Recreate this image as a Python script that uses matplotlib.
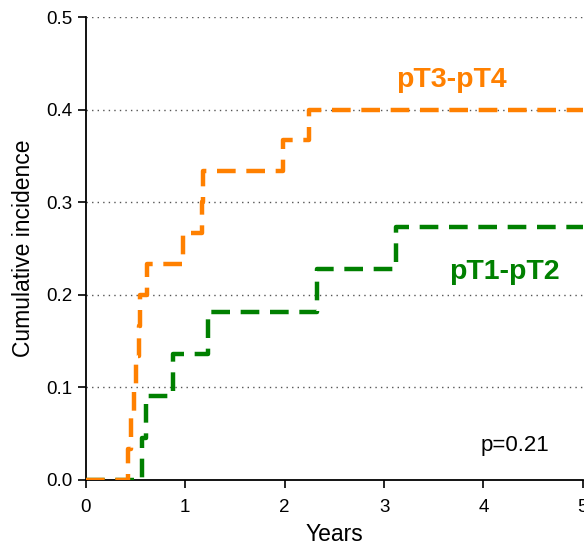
import matplotlib.pyplot as plt

plt.rcParams['font.family'] = ['Liberation Sans', 'DejaVu Sans']

# cumulative incidence step data (years, value)
t34 = [0, 0.42, 0.45, 0.48, 0.50, 0.53, 0.54, 0.62, 0.98, 1.17, 1.18, 1.98, 2.25, 5.0]
ci34 = [0, 1/30, 2/30, 3/30, 4/30, 5/30, 6/30, 7/30, 8/30, 9/30, 10/30, 11/30, 12/30, 12/30]
t12 = [0, 0.56, 0.61, 0.88, 1.23, 2.33, 3.12, 5.0]
ci12 = [0, 1/22, 2/22, 3/22, 4/22, 5/22, 6/22, 6/22]

fig = plt.figure(figsize=(5.84, 5.49), dpi=100)
ax = fig.add_axes([0.147, 0.126, 0.851, 0.843])

for y in [0.1, 0.2, 0.3, 0.4, 0.5]:
    ax.axhline(y, color='#555555', linestyle=(0, (1, 3)), linewidth=1, zorder=1)

ax.step(t12, ci12, where='post', color='#008000', linewidth=3.2, dashes=(4.2, 2.4), zorder=3)
ax.step(t34, ci34, where='post', color='#FF8000', linewidth=3.2, dashes=(4.2, 2.4), zorder=4)

ax.text(3.68, 0.432, 'pT3-pT4', color='#FF8000', fontsize=20.5, fontweight='bold', ha='center', va='center')
ax.text(4.21, 0.2246, 'pT1-pT2', color='#008000', fontsize=20.5, fontweight='bold', ha='center', va='center')
ax.text(4.32, 0.037, 'p=0.21', color='black', fontsize=16, ha='center', va='center')

ax.set_xlim(0, 5)
ax.set_ylim(0, 0.5)
ax.set_xticks([0, 1, 2, 3, 4, 5])
ax.set_yticks([0, 0.1, 0.2, 0.3, 0.4, 0.5])
ax.set_yticklabels(['0.0', '0.1', '0.2', '0.3', '0.4', '0.5'])
ax.tick_params(direction='out', length=6, width=1.2, labelsize=13.5)
ax.tick_params(axis='x', pad=8)
ax.spines['top'].set_visible(False)
ax.spines['right'].set_visible(False)
ax.spines['left'].set_linewidth(1.3)
ax.spines['bottom'].set_linewidth(1.3)
ax.set_xlabel('Years', fontsize=16.5, labelpad=5)
ax.set_ylabel('Cumulative incidence', fontsize=16.5, labelpad=8)

plt.savefig('out.png', dpi=100)
